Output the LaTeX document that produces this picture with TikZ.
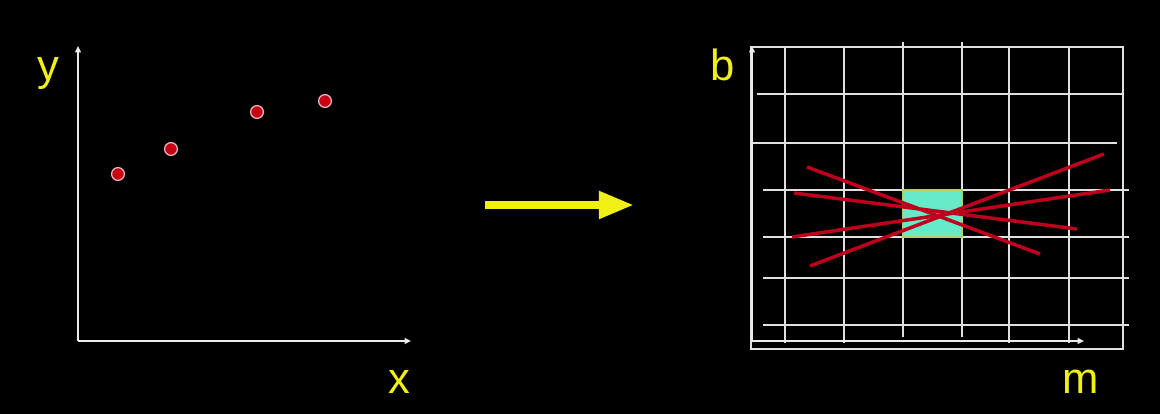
\documentclass[tikz,border=0pt]{standalone}
\usepackage{fontspec}
\setmainfont{Liberation Sans}
\usepackage{xcolor}
\usetikzlibrary{arrows.meta}
\definecolor{dotred}{RGB}{200,0,22}
\definecolor{dotrim}{RGB}{235,185,190}
\definecolor{fitred}{RGB}{190,0,28}
\definecolor{cellfill}{RGB}{102,234,200}
\definecolor{cellrim}{RGB}{170,215,95}
\definecolor{lblyellow}{RGB}{240,240,20}

\begin{document}
\begin{tikzpicture}[x=0.025cm,y=-0.025cm,
  >={Triangle[length=4.5pt,width=4pt]},
  axis/.style={draw=white!92!black,line width=1.6pt,->},
  gridline/.style={draw=white!88!black,line width=1.5pt},
  datapt/.style={circle,fill=dotred,draw=dotrim,line width=0.9pt,minimum size=0.32cm,inner sep=0pt},
  fitline/.style={draw=fitred,line width=2.5pt},
  lbl/.style={text=lblyellow,inner sep=0pt,font=\fontsize{31}{34}\selectfont}]
  % ---- background / bounding box ----
  \fill[black] (0,0) rectangle (1160,414);
  \useasboundingbox (0,0) rectangle (1160,414);
  % ---- data space ----
  \coordinate (o1) at (78,341);
  \coordinate (ytop) at (78,46);
  \coordinate (xend) at (411,341);
  \draw[axis] (o1) -- (ytop);
  \draw[axis] (o1) -- (xend);
  \node[lbl] (ylab) at (48,74) {y};
  \node[lbl] (xlab) at (399,382) {x};
  \foreach \px/\py [count=\i] in {118/174,171/149,257/112,325/101}
    \node[datapt] (p\i) at (\px,\py) {};
  % ---- transform arrow ----
  \coordinate (arrS) at (485,205);
  \coordinate (arrE) at (634,205);
  \draw[draw=lblyellow,line width=5.7pt,-{Triangle[length=25pt,width=18.5pt]}] (arrS) -- (arrE);
  % ---- parameter space ----
  \draw[gridline] (751,47) rectangle (1123,349);
  \foreach \gx/\ga/\gb in {785/47/343,844/47/343,903/42/337,962/42/337,1009/47/343,1069/47/343}
    \draw[gridline] (\gx,\ga) -- (\gx,\gb);
  \foreach \gy/\ga/\gb in {94/757/1123,143/751/1117,190/763/1129,237/763/1129,278/763/1129,325/763/1129}
    \draw[gridline] (\ga,\gy) -- (\gb,\gy);
  \coordinate (o2) at (752,341);
  \coordinate (btop) at (752,46);
  \coordinate (mend) at (1084,341);
  \draw[axis] (o2) -- (btop);
  \draw[axis] (o2) -- (mend);
  \draw[fill=cellfill,draw=cellrim,line width=1.3pt] (903,190) rectangle (962,237);
  % lines through the points
  \draw[fitline] (807,167) -- (1040,254);
  \draw[fitline] (794,193) -- (1077,229);
  \draw[fitline] (792,237) -- (1110,190);
  \draw[fitline] (810,266) -- (1104,154);
  \node[lbl] (blab) at (723,65) {b};
  \node[lbl] (mlab) at (1081,382) {m};
\end{tikzpicture}
\end{document}
